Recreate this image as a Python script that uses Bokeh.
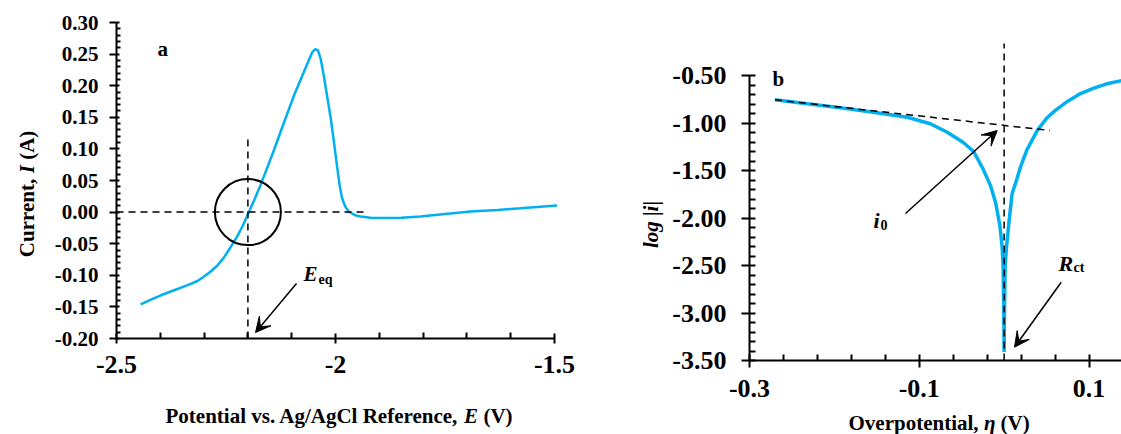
import numpy as np
from bokeh.plotting import figure
from bokeh.layouts import row
from bokeh.models import Range1d, FixedTicker, Label, Arrow, VeeHead, LinearAxis
from bokeh.embed import file_html
from bokeh.resources import INLINE

# ---------------- data ----------------
# (a) current response of the potential sweep
potential_a = [-2.445, -2.42, -2.40, -2.37, -2.339, -2.315, -2.30, -2.285, -2.270,
               -2.255, -2.24, -2.224, -2.212, -2.199, -2.185, -2.171, -2.156, -2.141,
               -2.126, -2.11, -2.095, -2.072, -2.060, -2.053, -2.046, -2.040, -2.034,
               -2.027, -2.019, -2.011, -2.003, -1.996, -1.990, -1.985, -1.978, -1.970,
               -1.955, -1.943, -1.92, -1.897, -1.85, -1.806, -1.75, -1.692, -1.63,
               -1.578, -1.494]
current_a = [-0.146, -0.138, -0.132, -0.124, -0.116, -0.109, -0.102, -0.094, -0.085,
             -0.072, -0.056, -0.038, -0.022, -0.002, 0.020, 0.043, 0.070, 0.097,
             0.126, 0.156, 0.184, 0.222, 0.242, 0.253, 0.258, 0.256, 0.243,
             0.217, 0.183, 0.149, 0.108, 0.070, 0.040, 0.022, 0.009, 0.001,
             -0.005, -0.007, -0.009, -0.0095, -0.009, -0.0068, -0.003, 0.001, 0.0035,
             0.006, 0.0106]

# (b) Tafel plot
overpotential_b = [-0.270, -0.232, -0.193, -0.154, -0.114, -0.087, -0.067, -0.048,
                   -0.036, -0.025, -0.016, -0.010, -0.005, -0.0024, -0.0012, -0.0004,
                   0.0, 0.0004, 0.0012, 0.0028, 0.0059, 0.0094, 0.0120, 0.0133,
                   0.0192, 0.027, 0.039, 0.050, 0.060, 0.075, 0.090, 0.105, 0.120, 0.1387]
log_current_b = [-0.756, -0.798, -0.840, -0.886, -0.939, -1.008, -1.097, -1.205,
                 -1.30, -1.48, -1.66, -1.84, -2.08, -2.30, -2.50, -3.00,
                 -3.41, -3.00, -2.50, -2.307, -2.026, -1.745, -1.67, -1.64,
                 -1.465, -1.28, -1.08, -0.95, -0.87, -0.77, -0.69, -0.635, -0.59, -0.553]

# reference constructions
eq_potential = -2.2
eq_guide_top = 0.12
zero_line_end = -1.928
tafel_eta = [-0.270, 0.054]
tafel_log = [-0.756, -1.079]
zero_overpotential = 0.0
zero_guide_top = -0.163

# axis extents and ticks
a_x_bounds = (-2.5, -1.5)
a_y_bounds = (-0.2, 0.3)
b_x_bounds = (-0.3, 0.1384)
b_y_bounds = (-3.5, -0.5)

a_x_ticks = [-2.5, -2.0, -1.5]
a_x_labels = ["-2.5", "-2", "-1.5"]
a_y_ticks = [-0.20, -0.15, -0.10, -0.05, 0.0, 0.05, 0.10, 0.15, 0.20, 0.25, 0.30]
a_y_labels = ["-0.20", "-0.15", "-0.10", "-0.05", "0.00", "0.05", "0.10", "0.15",
              "0.20", "0.25", "0.30"]
b_x_ticks = [-0.3, -0.1, 0.1]
b_x_labels = ["-0.3", "-0.1", "0.1"]
b_y_ticks = [-3.5, -3.0, -2.5, -2.0, -1.5, -1.0, -0.5]
b_y_labels = ["-3.50", "-3.00", "-2.50", "-2.00", "-1.50", "-1.00", "-0.50"]


def minor_between(start, stop, step, majors):
    vals = np.round(np.arange(start, stop + step / 2, step), 3)
    return [float(v) for v in vals if all(abs(v - m) > 1e-6 for m in majors)]


a_x_minor = minor_between(-2.5, -1.5, 0.1, a_x_ticks)
a_y_minor = minor_between(-0.2, 0.3, 0.01, a_y_ticks)
b_x_minor = minor_between(-0.3, 0.1, 0.04, b_x_ticks)
b_y_minor = minor_between(-3.5, -0.5, 0.1, b_y_ticks)

# ---------------- layout geometry ----------------
BLUE = "#00B0F0"
FONT = "Liberation Serif"
DASH = "7 5"
H = 434

# each panel: canvas width, and pixel positions of the axis extents
A_W = 600
A_PX = (116, 554)      # x of a_x_bounds
A_PY = (338, 22)       # y of a_y_bounds
B_W = 521
B_PX = (149, 488.5)    # x of -0.3 and 0.1
B_PY = (360, 75)       # y of b_y_bounds


def linear_map(p0, p1, v0, v1):
    k = (v1 - v0) / (p1 - p0)
    return lambda p: v0 + (p - p0) * k


a_fx = linear_map(A_PX[0], A_PX[1], a_x_bounds[0], a_x_bounds[1])
a_fy = linear_map(A_PY[0], A_PY[1], a_y_bounds[0], a_y_bounds[1])
b_fx = linear_map(B_PX[0], B_PX[1], -0.3, 0.1)
b_fy = linear_map(B_PY[0], B_PY[1], b_y_bounds[0], b_y_bounds[1])


def a_pos(px, py):
    return a_fx(px), a_fy(py)


def b_pos(px, py):
    # px given in page coordinates; panel b starts after panel a
    return b_fx(px - A_W), b_fy(py)


def style_axis(ax, ticks, labels, minor, size, t_in, t_out, m_in, m_out, standoff):
    ax.ticker = FixedTicker(ticks=ticks, minor_ticks=minor)
    ax.major_label_overrides = dict(zip(ticks, labels))
    ax.axis_line_width = 2
    ax.axis_line_color = "black"
    ax.major_tick_line_width = 2
    ax.minor_tick_line_width = 2
    ax.major_tick_line_color = "black"
    ax.minor_tick_line_color = "black"
    ax.major_tick_in = t_in
    ax.major_tick_out = t_out
    ax.minor_tick_in = m_in
    ax.minor_tick_out = m_out
    ax.major_label_standoff = standoff
    ax.major_label_text_font = FONT
    ax.major_label_text_font_style = "bold"
    ax.major_label_text_font_size = f"{size}px"
    ax.major_label_text_color = "black"


def add_text(fig, pos, text, size, style="bold", align="left", angle=0.0):
    fig.add_layout(Label(x=pos[0], y=pos[1], text=text, text_font=FONT,
                         text_font_size=f"{size}px", text_font_style=style,
                         text_align=align, text_baseline="alphabetic",
                         text_color="black", angle=angle))


def add_arrow(fig, start, end):
    fig.add_layout(Arrow(end=VeeHead(size=15, fill_color="black", line_color="black",
                                     line_width=1),
                         x_start=start[0], y_start=start[1], x_end=end[0], y_end=end[1],
                         line_color="black", line_width=1.5))


def base_figure(width, fx, fy):
    p = figure(width=width, height=H,
               x_range=Range1d(fx(0), fx(width)), y_range=Range1d(fy(H), fy(0)),
               x_axis_type=None, y_axis_type=None,
               output_backend="svg", toolbar_location=None,
               min_border_left=0, min_border_right=0,
               min_border_top=0, min_border_bottom=0)
    p.xgrid.visible = False
    p.ygrid.visible = False
    p.outline_line_color = None
    p.background_fill_color = "white"
    p.border_fill_color = "white"
    return p


def add_axes(p, xb, yb):
    xa = LinearAxis(fixed_location=yb[0], bounds=xb)
    ya = LinearAxis(fixed_location=xb[0], bounds=yb)
    p.add_layout(xa, "below")
    p.add_layout(ya, "left")
    return xa, ya


# ---------------- panel a ----------------
pa = base_figure(A_W, a_fx, a_fy)
ax_x, ax_y = add_axes(pa, a_x_bounds, a_y_bounds)
style_axis(ax_x, a_x_ticks, a_x_labels, a_x_minor, 26, 5, 5, 6, 0, 12)
style_axis(ax_y, a_y_ticks, a_y_labels, a_y_minor, 21, 3, 7, 4, 0, 11)

pa.line(potential_a, current_a, line_color=BLUE, line_width=2.5)
pa.line([a_x_bounds[0], zero_line_end], [0, 0], line_color="black", line_width=1.5,
        line_dash=DASH)
pa.line([eq_potential, eq_potential], [a_y_bounds[0], eq_guide_top], line_color="black",
        line_width=1.5, line_dash=DASH)
pa.scatter([eq_potential], [0.0], marker="circle", size=66, fill_color=None,
           line_color="black", line_width=2)

add_text(pa, a_pos(157, 48), "a", 21)
add_text(pa, a_pos(303, 273), "E", 21, "bold italic")
add_text(pa, a_pos(318, 279), "eq", 14)
add_arrow(pa, a_pos(296, 283), a_pos(255, 332))

# axis titles
add_text(pa, a_pos(165, 415), "Potential vs. Ag/AgCl Reference,", 21)
add_text(pa, a_pos(463.6, 415), "E", 21, "bold italic")
add_text(pa, a_pos(482.9, 415), "(V)", 21)
add_text(pa, a_pos(26, 256.7), "Current,", 21, angle=np.pi / 2)
add_text(pa, a_pos(26, 172.7), "I", 21, "bold italic", angle=np.pi / 2)
add_text(pa, a_pos(26, 159.3), "(A)", 21, angle=np.pi / 2)

# ---------------- panel b ----------------
pb = base_figure(B_W, b_fx, b_fy)
bx_x, bx_y = add_axes(pb, b_x_bounds, b_y_bounds)
style_axis(bx_x, b_x_ticks, b_x_labels, b_x_minor, 26, 6, 7, 6, 0, 12)
style_axis(bx_y, b_y_ticks, b_y_labels, b_y_minor, 26, 6, 8, 6, 0, 15)

pb.line(overpotential_b, log_current_b, line_color=BLUE, line_width=3.5)
pb.line(tafel_eta, tafel_log, line_color="black", line_width=1.5, line_dash=DASH)
pb.line([zero_overpotential, zero_overpotential], [b_y_bounds[0], zero_guide_top],
        line_color="black", line_width=1.5, line_dash=DASH)

add_text(pb, b_pos(772, 78), "b", 21)
add_text(pb, b_pos(873, 220), "i", 22, "bold italic")
add_text(pb, b_pos(880, 224), "0", 14)
add_arrow(pb, b_pos(905, 213), b_pos(996.7, 130))
add_text(pb, b_pos(1058, 263), "R", 22, "bold italic")
add_text(pb, b_pos(1073, 267), "ct", 14)
add_arrow(pb, b_pos(1060.7, 281.7), b_pos(1014, 346.7))

add_text(pb, b_pos(848, 422), "Overpotential,", 21)
add_text(pb, b_pos(983.4, 422), "\u03b7", 21, "bold italic")
add_text(pb, b_pos(1000.1, 422), "(V)", 21)
add_text(pb, b_pos(650, 224), "log |i|", 21, "bold italic", align="center",
         angle=np.pi / 2)

layout = row(pa, pb)
open("out.html", "w").write(file_html(layout, INLINE))
